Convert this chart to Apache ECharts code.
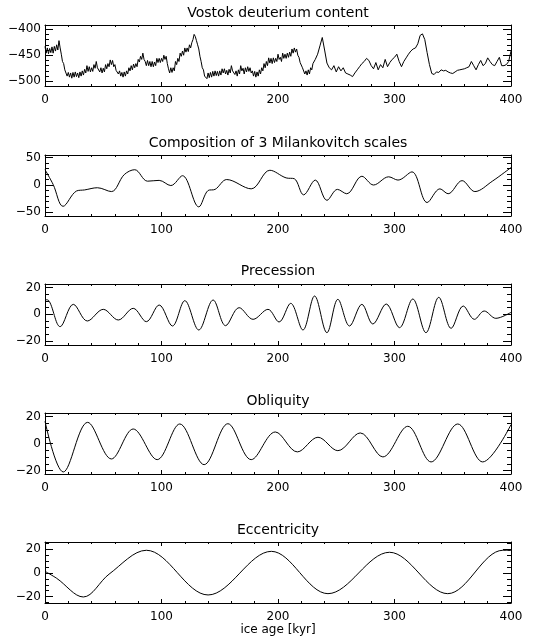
<!DOCTYPE html>
<html><head><meta charset="utf-8">
<script src="https://cdn.jsdelivr.net/npm/echarts@6/dist/echarts.min.js"></script>
<style>html,body{margin:0;padding:0;background:#fff}#c{width:540px;height:641px}</style>
</head><body><div id="c"></div>
<script>
// ---------- DATA ----------
const panelTitles = ['Vostok deuterium content', 'Composition of 3 Milankovitch scales', 'Precession', 'Obliquity', 'Eccentricity'];
const xTickLabels = [0, 100, 200, 300, 400];
const xAxisTitle = 'ice age [kyr]';
const yTickLabels1 = [-500, -450, -400];
const yTickLabels2 = [-50, 0, 50];
const yTickLabels3 = [-20, 0, 20];
const yTickLabels4 = [-20, 0, 20];
const yTickLabels5 = [-20, 0, 20];

// Vostok deuterium: densely sampled part, one value per kyr from 0 to 230 kyr
const vostokDenseStart = 0, vostokDenseStep = 1;
const vostokDense = [
 -433,-446,-436,-447,-437,-445,-434,-446,-433,-442,
 -430,-440,-422,-436,-448,-462,-466,-478,-480,-490,
 -483,-492,-484,-494,-483,-492,-482,-491,-484,-493,
 -482,-490,-480,-488,-477,-484,-470,-481,-472,-482,
 -474,-481,-468,-475,-462,-474,-472,-482,-474,-484,
 -475,-482,-468,-476,-466,-472,-459,-468,-460,-472,
 -468,-479,-477,-486,-480,-490,-483,-492,-482,-490,
 -480,-486,-474,-480,-470,-478,-467,-474,-466,-472,
 -458,-463,-452,-458,-446,-458,-462,-470,-460,-470,
 -462,-472,-462,-472,-463,-470,-456,-464,-456,-464,
 -456,-462,-450,-458,-452,-466,-476,-484,-474,-483,
 -474,-480,-462,-468,-456,-462,-446,-452,-442,-450,
 -436,-444,-436,-443,-430,-436,-426,-420,-410,-414,
 -422,-430,-438,-452,-462,-474,-478,-490,-488,-495,
 -484,-493,-483,-492,-481,-490,-480,-489,-481,-490,
 -480,-488,-476,-484,-476,-486,-479,-488,-477,-484,
 -470,-480,-478,-487,-480,-490,-478,-486,-470,-480,
 -475,-486,-474,-482,-472,-481,-474,-484,-480,-490,
 -481,-492,-482,-490,-478,-486,-474,-480,-466,-474,
 -462,-470,-455,-465,-456,-466,-455,-464,-456,-462,
 -448,-458,-454,-462,-446,-456,-448,-456,-446,-454,
 -444,-452,-438,-446,-436,-444,-438,-450,-454,-464,
 -462,-474,-476,-486,-480,-488,-478,-486,-474,-478,
 -466
];
// Vostok deuterium: sparser part, one value every 2 kyr from 232 to 400 kyr
const vostokSparseStart = 232, vostokSparseStep = 2;
const vostokSparse = [
 -458,-448,-432,-416,-440,-465,-474,-478,-470,-482,
 -472,-480,-474,-484,-486,-488,-491,-484,-478,-472,
 -466,-462,-456,-460,-470,-476,-464,-478,-468,-474,
 -458,-472,-464,-458,-454,-448,-462,-472,-462,-455,
 -448,-442,-438,-436,-428,-412,-409,-420,-445,-468,
 -485,-487,-482,-483,-478,-480,-479,-482,-484,-485,
 -482,-479,-478,-477,-476,-474,-472,-462,-470,-478,
 -468,-460,-470,-466,-455,-462,-468,-470,-462,-454,
 -470,-470,-468,-462,-442
];

// Composition of 3 Milankovitch scales
const compAge = [0,7,15.5,27,34,45,57,68,77,88,98,108,118,132,140,146,156,177,193,207,214,222,232,242,251,259,272,282,295,303,315,328,339,346,358,369,384,400];
const compVal = [28,1,-39,-11,-9,-5,-12,19,28,7,8.5,-1,17,-40,-10,-8,10,-7,27,13,11.5,-18,9,-28,-8,-16,16,0,15,9,24,-32,-7,-16,8,-12,7,32];

// Precession
const precAge = [0,3,13,24.3,36.3,50,62.9,75.7,87,98,109.4,120,132,144.3,155,166.6,178.6,191.4,200.9,210.9,221.4,231.4,242,251.4,261.4,272,281.4,292.9,304.3,315.7,327,338,348.6,359,368.6,377,387,400];
const precVal = [11,10.5,-9.25,7.5,-5,3.75,-4.25,4.5,-5.5,7,-8.75,10.25,-11.75,10.75,-8.5,5,-3.75,3.75,-5.75,8.25,-11.75,13.75,-13.75,11.25,-8.75,7.5,-7.25,7.75,-10,11.5,-13.75,12.75,-10.5,6.25,-3.75,2.5,-3,1.5];

// Obliquity
const obliqAge = [0,15.7,36.6,57,75.7,96.3,115.7,136.6,157,177,197.7,216.6,234.3,251.4,270.6,290,311.4,331.4,354.3,375.7,400];
const obliqVal = [16.5,-20.9,15.7,-11.3,10.8,-11.8,14.5,-15.5,14.7,-11.8,8.6,-6.1,4.7,-5.2,7.9,-9.8,12.8,-13.5,14.5,-13.5,14];

// Eccentricity
const eccAge = [0,10,32.9,55,87,140,194.3,242.9,295.7,345.7,393,400];
const eccVal = [1.4,-4.5,-20.3,-1,19.2,-18.6,18.3,-17.5,17.5,-17.5,19.2,19];

// ---------- LAYOUT ----------
const panels = [
  {top: 25,  ymin: -509, ymax: -392, ticks: yTickLabels1, minor: 10, titleY: 15},
  {top: 155, ymin: -56.7, ymax: 54.9, ticks: yTickLabels2, minor: 10, titleY: 145},
  {top: 284, ymin: -23, ymax: 22.75, ticks: yTickLabels3, minor: 5, titleY: 273},
  {top: 413, ymin: -22.4, ymax: 22.6, ticks: yTickLabels4, minor: 5, titleY: 403},
  {top: 542, ymin: -25.4, ymax: 26.2, ticks: yTickLabels5, minor: 5, titleY: 532}
];
const LEFT = 45, RIGHT = 29, H = 61;
const FONT = 'DejaVu Sans';
const black = '#000';

function range(a, b, s) { const r = []; for (let v = a; v <= b + 1e-9; v += s) r.push(+v.toFixed(6)); return r; }
const xMinor = range(0, 400, 20).filter(v => !xTickLabels.includes(v));
const fmt = v => String(v).replace('-', '\u2212');

const grid = [], xAxis = [], yAxis = [], series = [], title = [];
panels.forEach((p, i) => {
  grid.push({left: LEFT, right: RIGHT, top: p.top, height: H, containLabel: false});
  title.push({text: panelTitles[i], left: (LEFT + 540 - RIGHT) / 2, top: p.titleY - 9, textAlign: 'center', padding: 0,
    textStyle: {fontFamily: FONT, fontSize: 14, fontWeight: 'normal', color: black}});
  const yMinor = range(Math.ceil(p.ymin / p.minor) * p.minor, p.ymax, p.minor).filter(v => !p.ticks.includes(v));
  const baseX = {gridIndex: i, type: 'value', min: 0, max: 400, splitLine: {show: false}};
  const baseY = {gridIndex: i, type: 'value', min: p.ymin, max: p.ymax, splitLine: {show: false}};
  const xi = xAxis.length, yi = yAxis.length;
  const lineOn = {show: true, onZero: false, lineStyle: {color: black, width: 1}};
  const lineOff = {show: false, onZero: false};
  // x axes: bottom major (labels), bottom minor, top major, top minor
  xAxis.push(Object.assign({}, baseX, {position: 'bottom', axisLine: lineOn,
    axisTick: {show: true, inside: true, length: 4, customValues: xTickLabels, lineStyle: {color: black}},
    axisLabel: {show: true, customValues: xTickLabels, margin: 8, color: black, fontFamily: FONT, fontSize: 12, formatter: fmt},
    name: i === 4 ? xAxisTitle : '', nameLocation: 'middle', nameGap: 18,
    nameTextStyle: {fontFamily: FONT, fontSize: 12, color: black, verticalAlign: 'top'}}));
  xAxis.push(Object.assign({}, baseX, {position: 'bottom', axisLine: lineOff,
    axisTick: {show: true, inside: true, length: 2, customValues: xMinor, lineStyle: {color: black}}, axisLabel: {show: false}}));
  xAxis.push(Object.assign({}, baseX, {position: 'top', axisLine: lineOn,
    axisTick: {show: true, inside: true, length: 4, customValues: xTickLabels, lineStyle: {color: black}}, axisLabel: {show: false}}));
  xAxis.push(Object.assign({}, baseX, {position: 'top', axisLine: lineOff,
    axisTick: {show: true, inside: true, length: 2, customValues: xMinor, lineStyle: {color: black}}, axisLabel: {show: false}}));
  // y axes: left major (labels), left minor, right major, right minor
  yAxis.push(Object.assign({}, baseY, {position: 'left', axisLine: lineOn,
    axisTick: {show: true, inside: true, length: 8, customValues: p.ticks, lineStyle: {color: black}},
    axisLabel: {show: true, customValues: p.ticks, margin: 4, color: black, fontFamily: FONT, fontSize: 12, formatter: fmt}}));
  yAxis.push(Object.assign({}, baseY, {position: 'left', axisLine: lineOff,
    axisTick: {show: true, inside: true, length: 4, customValues: yMinor, lineStyle: {color: black}}, axisLabel: {show: false}}));
  yAxis.push(Object.assign({}, baseY, {position: 'right', axisLine: lineOn,
    axisTick: {show: true, inside: true, length: 8, customValues: p.ticks, lineStyle: {color: black}}, axisLabel: {show: false}}));
  yAxis.push(Object.assign({}, baseY, {position: 'right', axisLine: lineOff,
    axisTick: {show: true, inside: true, length: 4, customValues: yMinor, lineStyle: {color: black}}, axisLabel: {show: false}}));
  p.xi = xi; p.yi = yi;
});

function pairs(ages, vals) { return ages.map((a, k) => [a, vals[k]]); }
const vostokData = vostokDense.map((v, k) => [vostokDenseStart + k * vostokDenseStep, v])
  .concat(vostokSparse.map((v, k) => [vostokSparseStart + k * vostokSparseStep, v]));
const dataSets = [
  {data: vostokData, smooth: false},
  {data: pairs(compAge, compVal), smooth: 0.35},
  {data: pairs(precAge, precVal), smooth: 0.35},
  {data: pairs(obliqAge, obliqVal), smooth: 0.35},
  {data: pairs(eccAge, eccVal), smooth: 0.35}
];
dataSets.forEach((d, i) => {
  series.push({type: 'line', xAxisIndex: panels[i].xi, yAxisIndex: panels[i].yi, data: d.data,
    smooth: d.smooth, showSymbol: false, symbol: 'none', silent: true, animation: false,
    lineStyle: {color: black, width: 1}, clip: true});
});

const chart = echarts.init(document.getElementById('c'), null, {renderer: 'canvas'});
chart.setOption({backgroundColor: '#fff', animation: false, title, grid, xAxis, yAxis, series});
</script>
</body></html>
